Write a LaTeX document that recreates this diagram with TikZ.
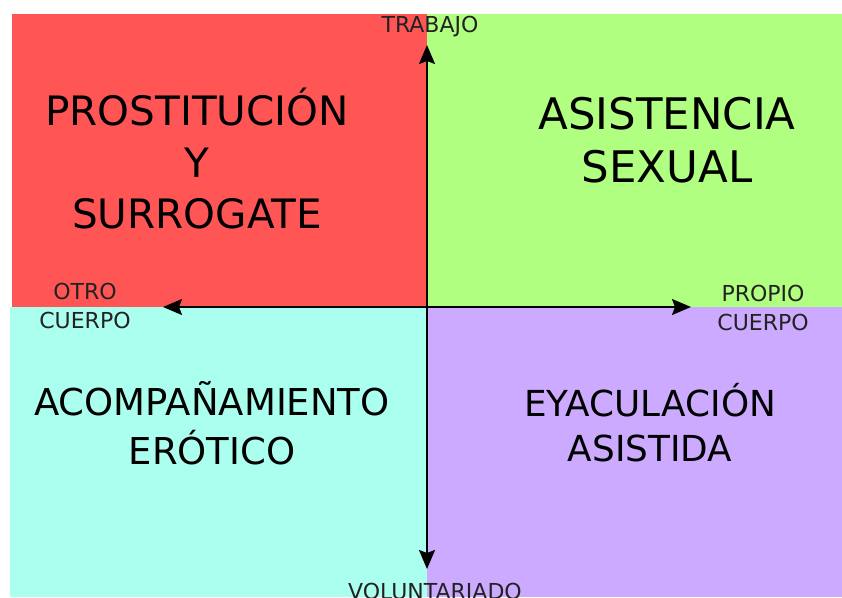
\documentclass[tikz,border=0pt]{standalone}
\usepackage{fontspec}
\setmainfont{DejaVu Sans}
\usepackage{tikz}
\usetikzlibrary{arrows.meta}

\definecolor{rojo}{HTML}{FF5555}
\definecolor{verde}{HTML}{B0FF80}
\definecolor{cian}{HTML}{AAFFEE}
\definecolor{lila}{HTML}{CCAAFF}
\definecolor{gris}{HTML}{222222}

\begin{document}
\begin{tikzpicture}[x=1pt,y=-1pt,
	eje/.style={-{Stealth[length=19pt,width=16pt,inset=3pt]},line width=1.9pt},
	cuadro/.style={align=center,text=black,inner sep=0pt},
	polo/.style={align=center,text=gris,inner sep=0pt,
		font=\fontsize{22}{29}\selectfont}]
	\useasboundingbox (0,0) rectangle (842,597);
	\fill[white] (0,0) rectangle (842,597);
	
	% cuadrantes
	\fill[rojo]  (12,14)  rectangle (427,307);
	\fill[verde] (427,14) rectangle (842,307);
	\fill[cian]  (10,307) rectangle (427,597);
	\fill[lila]  (427,307) rectangle (842,597);
	
	\node[cuadro,font=\fontsize{40.5}{51.5}\selectfont] (prost) at (197,159)
		{PROSTITUCIÓN\\Y\\SURROGATE};
	\node[cuadro,font=\fontsize{43.5}{53}\selectfont] (asist) at (667,140)
		{ASISTENCIA\\SEXUAL};
	\node[cuadro,font=\fontsize{37}{49}\selectfont] (acomp) at (212,423)
		{ACOMPAÑAMIENTO\\ERÓTICO};
	\node[cuadro,font=\fontsize{35.8}{45}\selectfont] (eyac) at (650,423)
		{EYACULACIÓN\\ASISTIDA};
	
	\node[polo] (trabajo) at (430,27) {TRABAJO};
	\node[polo] (otro)    at (85,306) {OTRO\\CUERPO};
	\node[polo] (propio)  at (763,308) {PROPIO\\CUERPO};
	\node[polo] (volunt)  at (435,591) {VOLUNTARIADO};
	
	% ejes
	\coordinate (centro) at (427,307);
	\coordinate (arriba) at (427,45);
	\coordinate (abajo)  at (427,569);
	\coordinate (izq)    at (163,307);
	\coordinate (der)    at (691,307);
	\draw[eje] (centro) -- (arriba);
	\draw[eje] (centro) -- (abajo);
	\draw[eje] (centro) -- (izq);
	\draw[eje] (centro) -- (der);
\end{tikzpicture}
\end{document}
